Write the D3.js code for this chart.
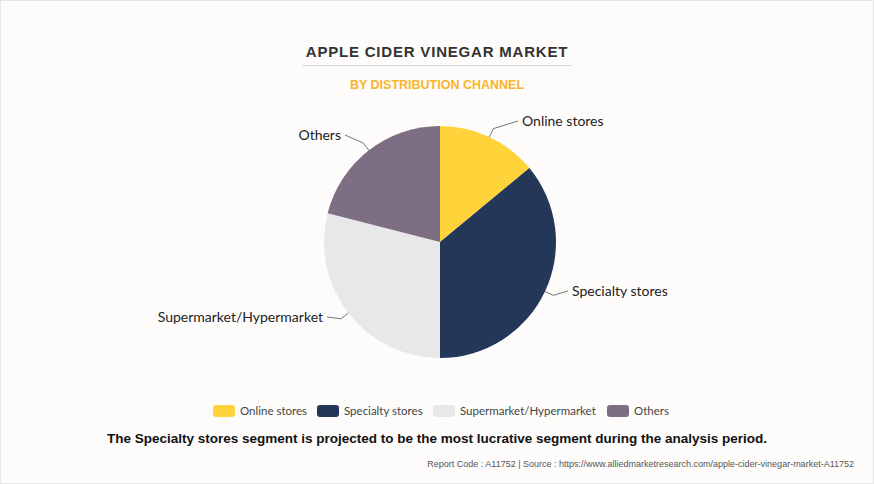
<!DOCTYPE html>
<html><head><meta charset="utf-8">
<script src="https://cdn.jsdelivr.net/npm/d3@7"></script>
<style>body{margin:0;background:#fff}</style></head>
<body><svg id="c" width="874" height="484"></svg>
<script>
const categories=["Online stores","Specialty stores","Supermarket/Hypermarket","Others"];
const values=[14,36,29,21];
const colors=["#FFD43B","#253759","#E8E8E8","#7D6E83"];
const labelPos=[[522,126,"start"],[572,296,"start"],[323,322,"end"],[341,140,"end"]];
const svg=d3.select("#c");
svg.append("rect").attr("x",0.5).attr("y",0.5).attr("width",873).attr("height",483).attr("fill","#fdfcfb").attr("stroke","#e6e6e6");
svg.append("text").attr("x",437).attr("y",57).attr("text-anchor","middle").attr("font-family","Liberation Sans,Arial").attr("font-weight","bold").attr("font-size",15).attr("letter-spacing",0.8).attr("fill","#333").text("APPLE CIDER VINEGAR MARKET");
svg.append("line").attr("x1",302).attr("x2",572).attr("y1",65.5).attr("y2",65.5).attr("stroke","#d9d9d9");
svg.append("text").attr("x",437).attr("y",89).attr("text-anchor","middle").attr("font-family","Liberation Sans,Arial").attr("font-weight","bold").attr("font-size",12.5).attr("fill","#F9B428").text("BY DISTRIBUTION CHANNEL");
const cx=440,cy=242,r=116;
const pie=d3.pie().sort(null)(values);
const arc=d3.arc().innerRadius(0).outerRadius(r);
const g=svg.append("g").attr("transform",`translate(${cx},${cy})`);
g.selectAll("path").data(pie).join("path").attr("d",arc).attr("fill",(d,i)=>colors[i]);
const outer=d3.arc().innerRadius(r).outerRadius(r);
pie.forEach((d,i)=>{
  const [ex,ey]=outer.centroid(d);
  const [lx,ly,anc]=labelPos[i];
  const tx=anc==="start"?lx-4:lx+4;
  const mx=cx+ex*1.08, my=cy+ey*1.08;
  svg.append("polyline").attr("points",`${cx+ex},${cy+ey} ${mx},${my} ${tx},${ly-5}`).attr("fill","none").attr("stroke","#555").attr("stroke-width",0.8);
  svg.append("text").attr("x",lx).attr("y",ly).attr("text-anchor",anc).attr("font-family","Lato,sans-serif").attr("font-size",14).attr("fill","#222").text(categories[i]);
});
const lx0=[213,317,433,607];
categories.forEach((c,i)=>{
  svg.append("rect").attr("x",lx0[i]).attr("y",405).attr("width",22).attr("height",12).attr("rx",3).attr("fill",colors[i]);
  svg.append("text").attr("x",lx0[i]+27).attr("y",415).attr("font-family","Lato,sans-serif").attr("font-size",11.5).attr("fill","#444").text(c);
});
svg.append("text").attr("x",437).attr("y",443).attr("text-anchor","middle").attr("font-family","Liberation Sans,Arial").attr("font-weight","bold").attr("font-size",13.5).attr("fill","#111").text("The Specialty stores segment is projected to be the most lucrative segment during the analysis period.");
svg.append("text").attr("x",854).attr("y",467).attr("text-anchor","end").attr("font-family","Liberation Sans,Arial").attr("font-size",9).attr("fill","#555").text("Report Code : A11752  |  Source : https://www.alliedmarketresearch.com/apple-cider-vinegar-market-A11752");
</script></body></html>
